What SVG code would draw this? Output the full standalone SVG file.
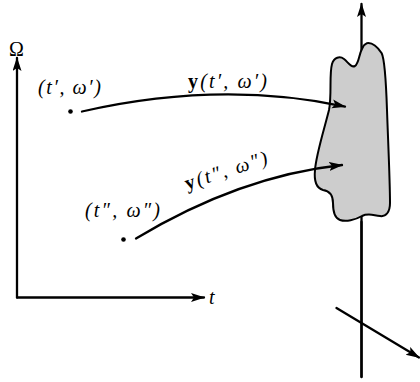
<svg xmlns="http://www.w3.org/2000/svg" width="420" height="382" viewBox="0 0 420 382">
<style>
.ln{fill:none;stroke:#000;stroke-width:2.3;stroke-linecap:round}
.tx{font-family:"Liberation Serif",serif;font-size:20px;fill:#000}
.it{font-style:italic}
.bd{font-weight:bold;font-style:normal}
</style>
<defs>
<marker id="ah" markerUnits="userSpaceOnUse" markerWidth="16" markerHeight="10" refX="13" refY="4.5" orient="auto">
<path d="M0,0 L14,4.5 L0,9 L3,4.5 Z" fill="#000"/>
</marker>
</defs>
<rect width="420" height="382" fill="#fff"/>
<g id="axes-left">
<line class="ln" x1="17" y1="297.5" x2="17" y2="58" marker-end="url(#ah)"/>
<line class="ln" x1="17" y1="297.5" x2="204" y2="297.5" marker-end="url(#ah)"/>
<text class="tx" x="9" y="56">Ω</text>
<text class="tx it" x="209" y="304">t</text>
</g>
<g id="right-space">
<line class="ln" x1="361.5" y1="377" x2="361.5" y2="4" marker-end="url(#ah)"/>
<path id="blob" d="M366.7,43.3 C372,42 378,47 381.7,53.3 C385,60 386,80 387,110 C388,140 390,180 390,203 C390,212 386,217 380,216 C372,215 368,213 362,216 C355,220 346,222 340,220 C334,218 333,210 333,203 C333,196 330,191 323,190 C316,188 314,180 315,170 C316,155 324,130 329,110 C332,95 329,75 332,64 C334,57 340,56 344,59 C348,62 351,68 355,66 C359,63 359,54 362,49 C363,46 365,44 366.7,43.3 Z" fill="#cdcdcd" stroke="#000" stroke-width="2"/>
<line class="ln" x1="361.5" y1="222" x2="361.5" y2="377"/>
<line class="ln" x1="336.5" y1="308" x2="419" y2="357.5" marker-end="url(#ah)"/>
</g>
<g id="point1">
<circle cx="70.5" cy="111.5" r="2.3" fill="#000"/>
<text class="tx it" x="38" y="94" textLength="63" lengthAdjust="spacing">(t′, ω′)</text>
</g>
<g id="point2">
<circle cx="123.5" cy="239.5" r="2.3" fill="#000"/>
<text class="tx it" x="85" y="217" textLength="75" lengthAdjust="spacing">(t″, ω″)</text>
</g>
<g id="connectors">
<path class="ln" d="M82,111.5 Q220,80 345,106.5" marker-end="url(#ah)"/>
<path class="ln" d="M136,238.5 C175,215 250,175 342,165" marker-end="url(#ah)"/>
</g>
<g id="labels">
<text class="tx it" x="188" y="88" textLength="79" lengthAdjust="spacing"><tspan class="bd">y</tspan>(t′, ω′)</text>
<text class="tx it" transform="translate(187,190) rotate(-18)" textLength="86" lengthAdjust="spacing"><tspan class="bd">y</tspan>(t″, ω″)</text>
</g>
</svg>
